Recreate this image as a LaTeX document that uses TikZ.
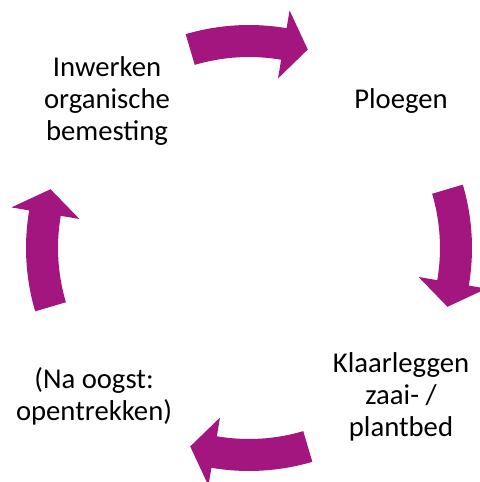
\documentclass[tikz,border=0pt]{standalone}
\usepackage{fontspec}
\setmainfont{Carlito}
\definecolor{cyclepurple}{RGB}{164,22,127}
\begin{document}
\begin{tikzpicture}[x=0.025cm, y=0.025cm]
        \tikzstyle{stage}=[align=center, inner sep=0pt, font=\fontsize{20.4}{22.6}\selectfont]
        \tikzstyle{cyclearrow}=[fill=cyclepurple, draw=none]
        \useasboundingbox (0,0) rectangle (480,482);

        % Gebogen pijlen rond het midden
        \begin{scope}[shift={(249,234)}]
            \foreach \a in {90,0,-90,180} {
                \fill[cyclearrow] (\a+16.5:223) arc[start angle=\a+16.5, end angle=\a-9.7, radius=223]
                    -- (\a-9.7:241) -- (\a-16.5:207) -- (\a-9.7:172) -- (\a-9.7:191)
                    arc[start angle=\a-9.7, end angle=\a+16.5, radius=191] -- cycle;
            }
        \end{scope}

        % Stappen
        \node[stage] (inwerken) at (107,381) {Inwerken\\organische\\bemesting};
        \node[stage] (ploegen) at (401,381) {Ploegen};
        \node[stage] (klaarleggen) at (401,85) {Klaarleggen\\zaai- /\\plantbed};
        \node[stage] (oogst) at (94,86) {(Na oogst:\\opentrekken)};
    \end{tikzpicture}
\end{document}
